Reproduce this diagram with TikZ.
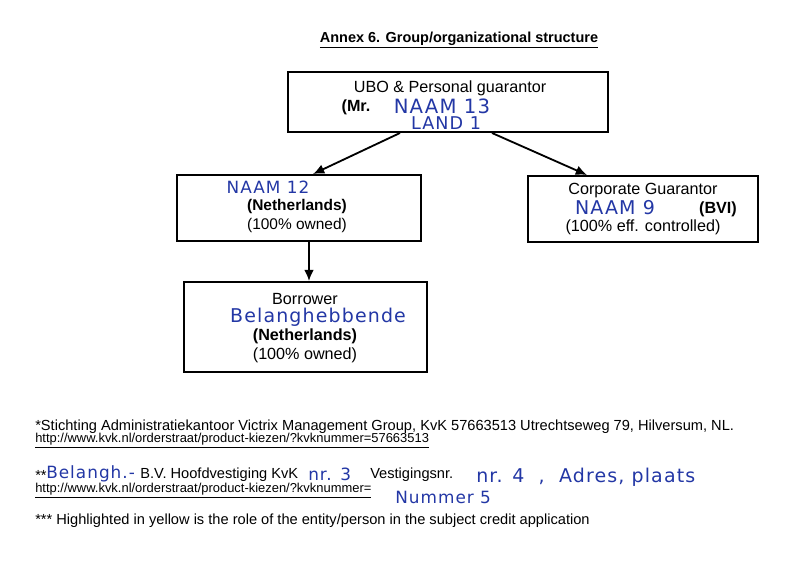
\documentclass[tikz,border=0pt]{standalone}
\usepackage{fontspec}
\setmainfont{Liberation Sans}
\newfontfamily\handfont[LetterSpace=6]{DejaVu Sans}
\usetikzlibrary{arrows.meta}
\definecolor{ink}{RGB}{35,55,165}
\newcommand{\fsz}[1]{\fontsize{#1}{#1}\selectfont}

\begin{document}
\begin{tikzpicture}[x=0.025cm, y=-0.025cm,
		box/.style={draw, line width=1.4pt, inner sep=0pt},
		txt/.style={inner sep=0pt, font=\fsz{11.5}},
		hand/.style={inner sep=0pt, text=ink, font=\handfont},
		note/.style={inner sep=0pt, anchor=west, font=\fsz{10.4}},
		link/.style={inner sep=0pt, anchor=west, font=\fsz{9.2}},
		arr/.style={line width=1.3pt, -{Latex[length=8pt, width=7pt]}}]
			\useasboundingbox (0,0) rectangle (800,572);

			\node[inner sep=0pt, font=\bfseries\fsz{10.3}] (title) at (459,40) {\underline{Annex 6. Group/organizational structure}};

			\node[box, minimum width=8cm, minimum height=1.5cm] (ubo) at (448,102) {};
			\node[box, minimum width=6.1cm, minimum height=1.65cm] (hold) at (299,208) {};
			\node[box, minimum width=5.75cm, minimum height=1.65cm] (corp) at (643,209) {};
			\node[box, minimum width=6.075cm, minimum height=2.25cm] (borr) at (305.5,327) {};

			\node[txt] (ubo1) at (450,88) {UBO \& Personal guarantor};
			\node[txt, font=\bfseries\fsz{11.5}] (ubo2) at (356,107) {(Mr.};
			\node[hand, font=\handfont\fsz{14}] (ubo3) at (442,106) {NAAM 13};
			\node[hand, font=\handfont\fsz{12.5}] (ubo4) at (446,123) {LAND 1};

			\node[hand, font=\handfont\fsz{12}] (hold1) at (268,187) {NAAM 12};
			\node[txt, font=\bfseries\fsz{11}] (hold2) at (297,206) {(Netherlands)};
			\node[txt, font=\fsz{11}] (hold3) at (297,225) {(100\% owned)};

			\node[txt] (corp1) at (643,191) {Corporate Guarantor};
			\node[hand, font=\handfont\fsz{13.5}] (corp2) at (615,208) {NAAM 9};
			\node[txt, font=\bfseries\fsz{11.5}] (corp3) at (718,209) {(BVI)};
			\node[txt] (corp4) at (643,227) {(100\% eff. controlled)};

			\node[txt] (borr1) at (305,299) {Borrower};
			\node[hand, font=\handfont\fsz{13.5}] (borr2) at (318,317) {Belanghebbende};
			\node[txt, font=\bfseries\fsz{11.5}] (borr3) at (305,336) {(Netherlands)};
			\node[txt] (borr4) at (305,355) {(100\% owned)};

			\draw[arr] ([xshift=-1.2cm]ubo.south) -- ([xshift=0.35cm]hold.north);
			\draw[arr] ([xshift=1.1cm]ubo.south) -- ([xshift=-1.4cm]corp.north);
			\draw[arr] ([xshift=0.25cm]hold.south) -- ([xshift=0.0875cm]borr.north);

			\node[note] (fn1) at (35,427) {*Stichting Administratiekantoor Victrix Management Group, KvK 57663513 Utrechtseweg 79, Hilversum, NL.};
			\node[link] (url1) at (35,441) {\underline{http://www.kvk.nl/orderstraat/product-kiezen/?kvknummer=57663513}};

			\node[note] (fn2a) at (35,475) {**};
			\node[hand, anchor=west, font=\handfont\fsz{12}] (fn2b) at (46,474) {Belangh.-};
			\node[note] (fn2c) at (140,475) {B.V. Hoofdvestiging KvK};
			\node[hand, anchor=west, font=\handfont\fsz{12}] (fn2d) at (308,474) {nr. 3};
			\node[note] (fn2e) at (370,475) {Vestigingsnr.};
			\node[hand, anchor=west, font=\handfont\fsz{13.5}] (fn2f) at (476,477) {nr. 4 \ , \ Adres, plaats};
			\node[link] (url2) at (35,491) {\underline{http://www.kvk.nl/orderstraat/product-kiezen/?kvknummer=}};
			\node[hand, anchor=west, font=\handfont\fsz{12}] (fn2g) at (395,497) {Nummer 5};

			\node[note] (fn3) at (35,521) {*** Highlighted in yellow is the role of the entity/person in the subject credit application};
		\end{tikzpicture}
\end{document}
